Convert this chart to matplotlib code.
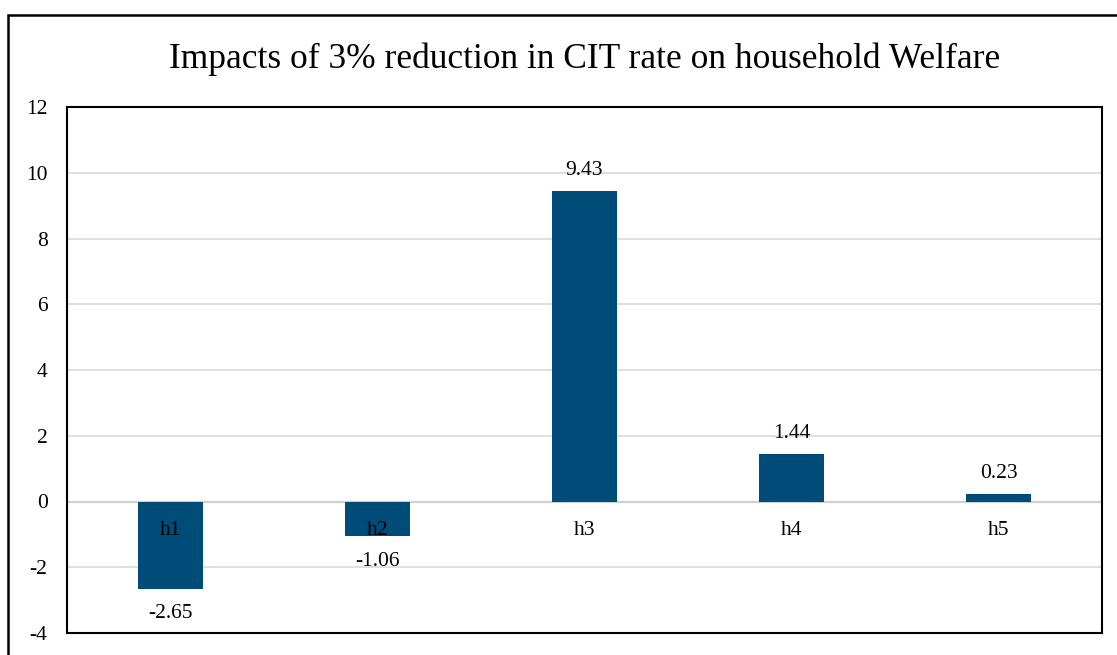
import matplotlib
matplotlib.use("Agg")
import matplotlib.pyplot as plt
from matplotlib.patches import Rectangle

categories = ["h1", "h2", "h3", "h4", "h5"]
values = [-2.65, -1.06, 9.43, 1.44, 0.23]
yticks = [-4, -2, 0, 2, 4, 6, 8, 10, 12]
title = "Impacts of 3% reduction in CIT rate on household Welfare"

plt.rcParams['font.family'] = ['Liberation Serif', 'DejaVu Serif']

W, H = 1117, 655
fig = plt.figure(figsize=(W / 100, H / 100), dpi=100)
fig.patch.set_facecolor("white")

# outer chart border (extends off canvas right/bottom)
fig.add_artist(Rectangle((8 / W, -0.05), 1.2, 1 - 15 / H + 0.05, transform=fig.transFigure,
                         fill=False, edgecolor="black", linewidth=1.8, clip_on=False))

l, r, t, b = 67, 1102, 107, 633
ax = fig.add_axes([l / W, 1 - b / H, (r - l) / W, (b - t) / H])
x = list(range(len(categories)))
ax.bar(x, values, width=0.314, color="#004c78", zorder=3)
ax.set_xlim(-0.5, len(categories) - 0.5)
ax.set_ylim(-4, 12)
ax.set_yticks(yticks)
ax.set_yticklabels([str(v) for v in yticks], fontsize=15.5)
ax.tick_params(axis="y", length=0, pad=14)
ax.set_xticks([])
for y in yticks[1:-1]:
    ax.axhline(y, color="#d9d9d9", linewidth=1.2, zorder=1)
ax.axhline(0, color="#d0d0d0", linewidth=1.6, zorder=2)
for s in ax.spines.values():
    s.set_linewidth(1.5)
    s.set_color("black")

for xi, cat in zip(x, categories):
    ax.annotate(cat, (xi, 0), xytext=(0, -21), textcoords="offset points",
                ha="center", va="center", fontsize=15.5, zorder=5)
for xi, v in zip(x, values):
    off = 15 if v >= 0 else -18
    ax.annotate(f"{v:.2f}", (xi, v), xytext=(0, off), textcoords="offset points",
                ha="center", va="center", fontsize=15.5, zorder=5)

fig.text((l + r) / 2 / W, 1 - 59 / H, title, ha="center", va="center", fontsize=25.5)

fig.savefig("out.png", dpi=100)
